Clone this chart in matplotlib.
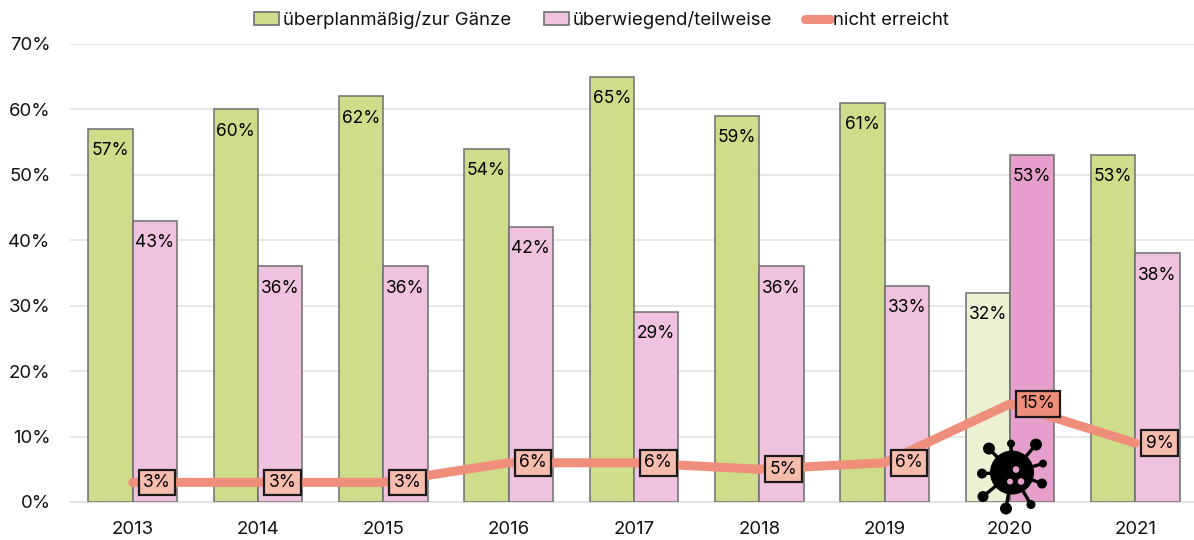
import numpy as np
import matplotlib.pyplot as plt
from matplotlib.patches import Circle, Patch
from matplotlib.lines import Line2D
from matplotlib.transforms import ScaledTranslation

plt.rcParams['font.family'] = ['Inter', 'DejaVu Sans']

years = ['2013', '2014', '2015', '2016', '2017', '2018', '2019', '2020', '2021']
ueberplan = [57, 60, 62, 54, 65, 59, 61, 32, 53]
ueberwiegend = [43, 36, 36, 42, 29, 36, 33, 53, 38]
nicht = [3, 3, 3, 6, 6, 5, 6, 15, 9]
names = ['überplanmäßig/zur Gänze', 'überwiegend/teilweise', 'nicht erreicht']

# the covid year is coloured differently
green = ['#cfdd8b'] * 9
green[7] = '#ebf1d2'
pink = ['#efc3e0'] * 9
pink[7] = '#e69fcc'
salmon = '#ef8f7b'
edge = '#6e6e6e'

# virus icon, pixels relative to its centre: x, y, radius
virus_balls = [(-23, 24, 6), (-1, 29, 4), (24, 28, 6), (31, 9, 4), (30, -11, 5),
               (19, -32, 4.5), (-6, -36, 6), (-29, -24, 5.5), (-30, -1, 5)]
virus_holes = [(4, 3, 3.3), (9, -9, 3.3), (-2, -9, 3)]

fig = plt.figure(figsize=(11.94, 5.4), dpi=100)
ax = fig.add_axes([70 / 1194, (540 - 502) / 540, 1128 / 1194, 458 / 540])

x = np.arange(len(years))
w = 0.355
fs = 12.5
fs_big = 13.4
ax.bar(x - w / 2, ueberplan, w, color=green, edgecolor=edge, linewidth=1.1, zorder=2)
ax.bar(x + w / 2, ueberwiegend, w, color=pink, edgecolor=edge, linewidth=1.1, zorder=2)
ax.plot(x, nicht, color=salmon, lw=6.5, solid_capstyle='round', solid_joinstyle='round', zorder=3)

for i in x:
    ax.annotate(f'{ueberplan[i]}%', (i - w / 2, ueberplan[i]), xytext=(0, -9.5), textcoords='offset points',
                ha='center', va='top', fontsize=fs, color='black', zorder=4, annotation_clip=False)
    ax.annotate(f'{ueberwiegend[i]}%', (i + w / 2, ueberwiegend[i]), xytext=(0, -9.5), textcoords='offset points',
                ha='center', va='top', fontsize=fs, color='black', zorder=4, annotation_clip=False)
    fc = salmon if i == 7 else '#f6bcae'
    ax.annotate(f'{nicht[i]}%', (i, nicht[i]), xytext=(7.5, 0), textcoords='offset points',
                ha='left', va='center', fontsize=fs, color='black', zorder=5,
                bbox=dict(boxstyle='square,pad=0.25', fc=fc, ec='#1a1a1a', lw=1.6))

# virus on top of the 2020 bars
anchor = fig.dpi_scale_trans + ScaledTranslation(7, 4.5, ax.transData)
px = 1 / 100
ax.add_patch(Circle((0.02, 0), 22 * px, fc='black', ec='none', transform=anchor, zorder=6, clip_on=False))
for bx, by, br in virus_balls:
    ax.add_patch(Circle((0.02 + bx * px, by * px), br * px, fc='black', ec='none', transform=anchor, zorder=6, clip_on=False))
    ax.plot([0.02, 0.02 + bx * px], [0, by * px], color='black', lw=2.4, transform=anchor, zorder=6, clip_on=False)
for bx, by, br in virus_holes:
    ax.add_patch(Circle((0.02 + bx * px, by * px), br * px, fc=pink[7], ec='none', transform=anchor, zorder=7, clip_on=False))

ax.set_xlim(-0.5, 8.5)
ax.set_ylim(0, 70)
ax.set_xticks(x)
ax.set_xticklabels(years)
ax.set_yticks(range(0, 71, 10))
ax.set_yticklabels([f'{v}%' for v in range(0, 71, 10)])
ax.tick_params(length=0, labelsize=fs_big, colors='#111111')
ax.tick_params(axis='x', pad=14)
ax.tick_params(axis='y', pad=14)
ax.grid(axis='y', color='#e3e3e3', lw=1.2, zorder=0)
ax.set_axisbelow(True)
for s in ax.spines.values():
    s.set_visible(False)
ax.spines['bottom'].set_visible(True)
ax.spines['bottom'].set_color('#e3e3e3')

handles = [Patch(fc='#cfdd8b', ec=edge, lw=1.2), Patch(fc='#efc3e0', ec=edge, lw=1.2),
           Line2D([], [], color=salmon, lw=6.5, solid_capstyle='round')]
fig.legend(handles, names, ncol=3, loc='upper left', bbox_to_anchor=(243 / 1194, 1.0), frameon=False,
           fontsize=fs_big, handlelength=1.35, handleheight=0.7, handletextpad=0.2, columnspacing=1.75,
           borderaxespad=0.2, labelcolor='#111111')

fig.savefig('out.png', dpi=100)
